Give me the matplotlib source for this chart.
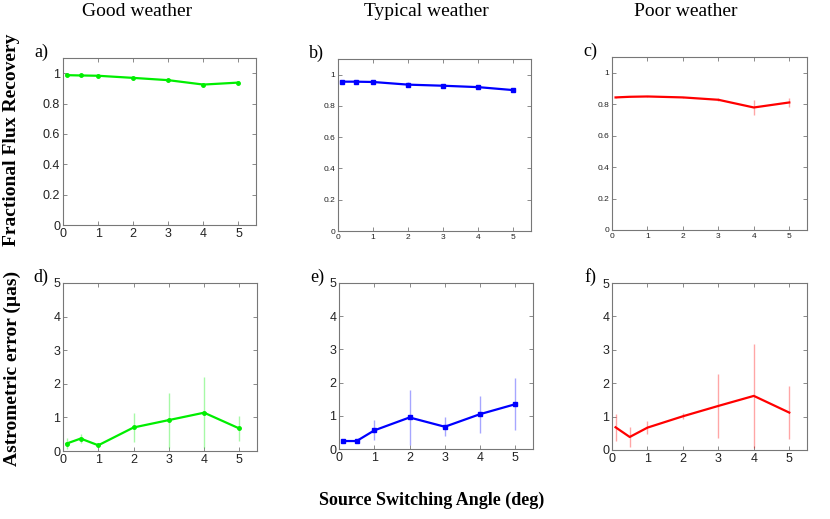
import matplotlib
matplotlib.use("Agg")
import matplotlib.pyplot as plt

# switching angles (deg)
angle = [0.1, 0.5, 1, 2, 3, 4, 5]

# fractional flux recovery
flux_good = [0.987, 0.985, 0.983, 0.969, 0.954, 0.925, 0.938]
flux_good_err = [0.006, 0.006, 0.006, 0.007, 0.01, 0.01, 0.008]
flux_typ = [0.955, 0.955, 0.953, 0.936, 0.929, 0.920, 0.901]
flux_typ_err = [0.008, 0.008, 0.008, 0.015, 0.012, 0.015, 0.008]
flux_poor = [0.843, 0.847, 0.849, 0.843, 0.828, 0.779, 0.811]
flux_poor_err = [0.004, 0.004, 0.004, 0.004, 0.01, 0.045, 0.03]

# astrometric error (uas)
ast_good = [0.22, 0.37, 0.17, 0.70, 0.92, 1.14, 0.67]
ast_good_err = [0.16, 0.13, 0.04, 0.43, 0.82, 1.05, 0.38]
ast_typ = [0.24, 0.24, 0.56, 0.95, 0.67, 1.05, 1.35]
ast_typ_err = [0.05, 0.05, 0.30, 0.82, 0.28, 0.56, 0.78]
ast_poor = [0.68, 0.39, 0.67, 1.01, 1.32, 1.62, 1.12]
ast_poor_err = [0.40, 0.30, 0.20, 0.09, 0.95, 1.56, 0.79]

titles = ["Good weather", "Typical weather", "Poor weather"]
title_x = [137, 426, 686]
panel_labels = ["a)", "b)", "c)", "d)", "e)", "f)"]

W, H = 830, 519
fig = plt.figure(figsize=(W / 100, H / 100), dpi=100)

def pix_axes(x0, y0, x1, y1):
    return fig.add_axes([x0 / W, (H - y1) / H, (x1 - x0) / W, (y1 - y0) / H])

boxes = [(63, 58, 256, 225), (338, 59, 531, 231), (612, 57, 807, 230),
         (63, 283, 257, 451), (339, 283, 533, 449), (612, 283, 807, 450)]
series = [(flux_good, flux_good_err, "#00ee00", "o", 2.5),
          (flux_typ, flux_typ_err, "#0000ff", "s", 3.5),
          (flux_poor, flux_poor_err, "#ff0000", None, 0),
          (ast_good, ast_good_err, "#00ee00", "o", 2.5),
          (ast_typ, ast_typ_err, "#0000ff", "s", 3.5),
          (ast_poor, ast_poor_err, "#ff0000", None, 0)]
tick_size = [9, 6, 6, 9, 9, 9]

for i, (box, (y, err, col, mk, ms)) in enumerate(zip(boxes, series)):
    ax = pix_axes(*box)
    ax.errorbar(angle, y, yerr=err, fmt="none", ecolor=col, alpha=0.35, elinewidth=1)
    ax.plot(angle, y, color=col, lw=1.6, marker=mk, ms=ms)
    ax.set_xlim(0, 5.5)
    ax.set_xticks([0, 1, 2, 3, 4, 5])
    if i < 3:
        ax.set_ylim(0, 1.1)
        ax.set_yticks([0, 0.2, 0.4, 0.6, 0.8, 1])
        ax.set_yticklabels(["0", "0.2", "0.4", "0.6", "0.8", "1"])
    else:
        ax.set_ylim(0, 5)
        ax.set_yticks([0, 1, 2, 3, 4, 5])
    ax.tick_params(direction="in", top=True, right=True, length=3, width=0.6,
                   color="#777777", labelsize=tick_size[i], pad=2, labelcolor="#222222")
    for s in ax.spines.values():
        s.set_color("#777777")
        s.set_linewidth(0.8)
    for lab in ax.get_xticklabels() + ax.get_yticklabels():
        lab.set_family("Liberation Sans")
    fig.text((box[0] - 22) / W, (H - box[1] + 6) / H, panel_labels[i],
             family="Liberation Serif", fontsize=13, ha="center", va="center")

for t, x in zip(titles, title_x):
    fig.text(x / W, 1 - 12 / H, t, family="Liberation Serif", fontsize=14,
             ha="center", va="center")

fig.text(12 / W, 1 - 140 / H, "Fractional Flux Recovery", family="Liberation Serif",
         fontsize=14, fontweight="bold", rotation=90, ha="center", va="center")
fig.text(12 / W, 1 - 368 / H, "Astrometric error (\u00b5as)", family="Liberation Serif",
         fontsize=14, fontweight="bold", rotation=90, ha="center", va="center")
fig.text(432 / W, 1 - 500 / H, "Source Switching Angle (deg)", family="Liberation Serif",
         fontsize=13, fontweight="bold", ha="center", va="center")

fig.savefig("out.png", dpi=100)
